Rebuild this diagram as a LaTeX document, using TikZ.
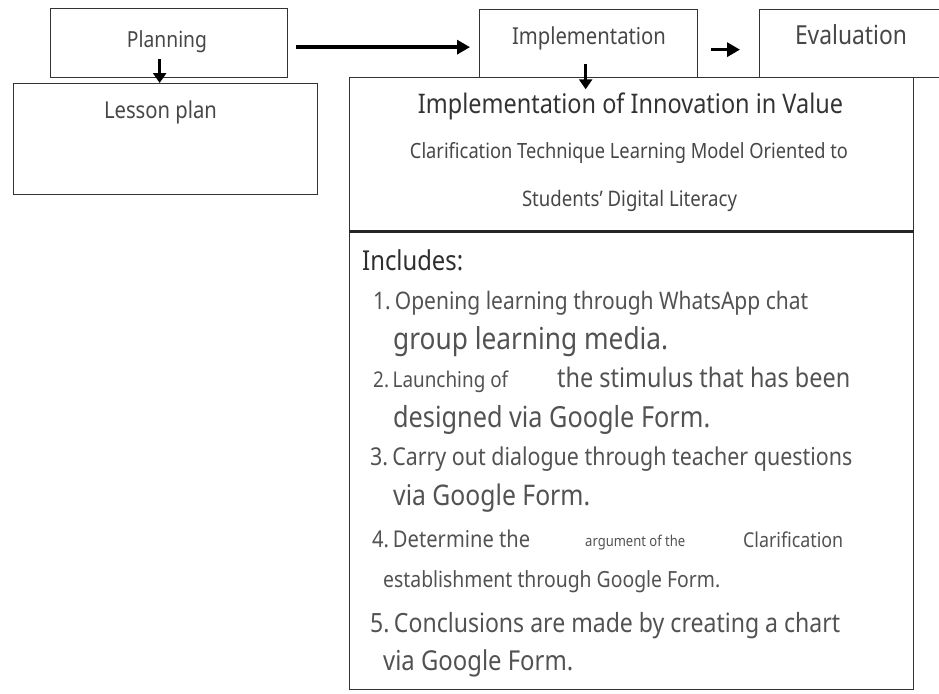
\documentclass[tikz,border=0pt]{standalone}
\usepackage{fontspec}
\setmainfont{Noto Sans}[FakeStretch=0.87]
\usepackage{graphicx}
\usetikzlibrary{arrows.meta}
\tikzset{stage/.style = {draw=black!80, line width=1.3pt, inner sep=0pt, anchor=north west}}
\tikzset{flow/.style = {-{Triangle[length=13pt,width=14pt]}, line width=3.6pt}}
\tikzset{drop/.style = {-{Triangle[length=10pt,width=13pt]}, line width=3pt}}
\tikzset{txt/.style = {anchor=base west, inner sep=0pt, text=black!68}}
\tikzset{head/.style = {anchor=base, inner sep=0pt, text=black!72}}
% stretch a line of text to a given width
\newcommand{\fitw}[2]{\resizebox{#1pt}{!}{#2}}

\begin{document}
\begin{tikzpicture}[x=1pt, y=-1pt]
      \useasboundingbox (0,0) rectangle (939,693);
      \clip (0,0) rectangle (939,693);
      % top row of stages
      \node [stage, minimum width=237pt, minimum height=69pt] (plan) at (50,8) {};
      \node [stage, minimum width=304pt, minimum height=111pt] (lesson) at (13,83) {};
      \node [stage, minimum width=218pt, minimum height=68pt] (impl) at (479,9) {};
      \node [stage, minimum width=220pt, minimum height=68pt] (eval) at (759,9) {};
      \node [head] (plan-t) at (167,48) {\fitw{80}{Planning}};
      \node [head] (lesson-t) at (160.5,118) {\fitw{113}{Lesson plan}};
      \node [head] (impl-t) at (589,45) {\fitw{154}{Implementation}};
      \node [head] (eval-t) at (851,45) {\fitw{112}{Evaluation}};
      % innovation box
      \node [stage, minimum width=564pt, minimum height=153pt] (innov) at (349,77) {};
      \node [stage, minimum width=564pt, minimum height=459pt] (incl) at (349,230) {};
      \draw [line width=2.6pt, black!85] (innov.south west) -- (innov.south east);
      \node [head, text=black!80] (innov-t) at (630.5,113) {\fitw{425}{Implementation of Innovation in Value}};
      \node [head] (innov-a) at (629,158) {\fitw{438}{Clarification Technique Learning Model Oriented to}};
      \node [head] (innov-b) at (629.5,206) {\fitw{215}{Students' Digital Literacy}};
      % steps
      \node [txt, text=black!82] (inc) at (362,270) {\fitw{101}{Includes:}};
      \node [txt] (s1a) at (373,309) {\fitw{435}{1.\,Opening learning through WhatsApp chat}};
      \node [txt] (s1b) at (393,349) {\fitw{275}{group learning media.}};
      \node [txt] (s2a) at (373,387) {\fitw{135}{2.\,Launching of}};
      \node [txt] (s2b) at (557,387) {\fitw{293}{the stimulus that has been}};
      \node [txt] (s2c) at (393,427) {\fitw{317}{designed via Google Form.}};
      \node [txt] (s3a) at (370,465) {\fitw{482}{3.\,Carry out dialogue through teacher questions}};
      \node [txt] (s3b) at (393,505) {\fitw{197}{via Google Form.}};
      \node [txt] (s4a) at (372,547) {\fitw{158}{4.\,Determine the}};
      \node [txt] (s4b) at (585,546) {\fitw{100}{argument of the}};
      \node [txt] (s4c) at (743,547) {\fitw{100}{Clarification}};
      \node [txt] (s4d) at (383,587) {\fitw{337}{establishment through Google Form.}};
      \node [txt] (s5a) at (370,632) {\fitw{470}{5.\,Conclusions are made by creating a chart}};
      \node [txt] (s5b) at (383,670) {\fitw{190}{via Google Form.}};
      % arrows
      \draw [drop] ([xshift=-9.5pt,yshift=19pt]plan.south) -- ([xshift=-9.5pt]plan.south |- lesson.north);
      \draw [flow] ([xshift=8pt,yshift=-4pt]plan.east) -- ([xshift=-9pt,yshift=-4pt]plan.east -| impl.west);
      \draw [flow] ([xshift=13pt,yshift=-6pt]impl.east) -- ([xshift=-19pt,yshift=-6pt]impl.east -| eval.west);
      \draw [drop] ([xshift=-3pt,yshift=14pt]impl.south) -- ([xshift=-3pt,yshift=-11pt]impl.south);
    \end{tikzpicture}
\end{document}
